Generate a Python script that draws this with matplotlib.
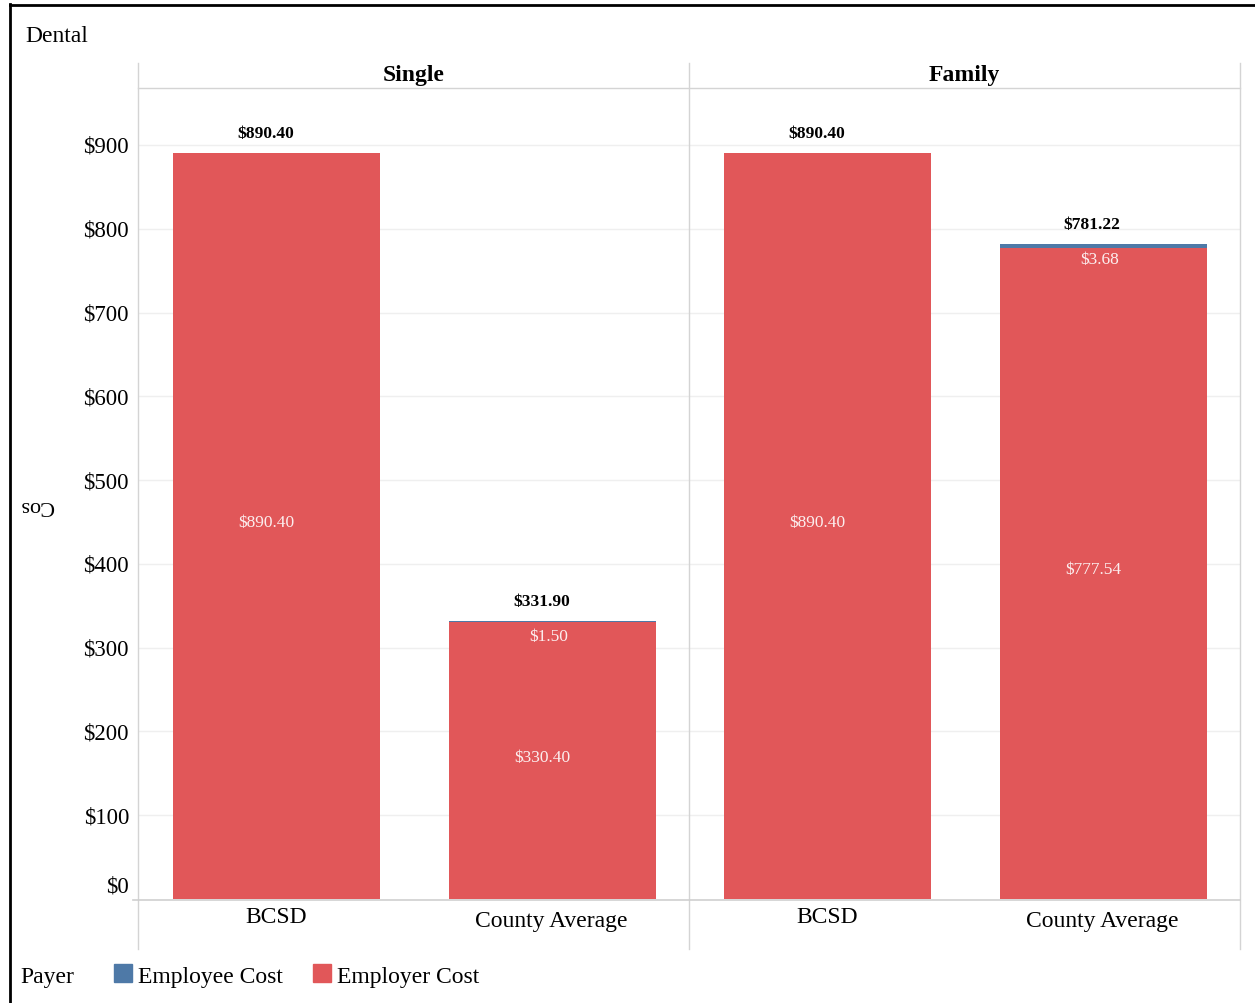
import matplotlib
matplotlib.use("Agg")
import matplotlib.pyplot as plt
from matplotlib.lines import Line2D
from matplotlib.patches import Rectangle

plt.rcParams['font.family'] = ['Liberation Serif', 'DejaVu Serif']

# ---- data ----
panels = ["Single", "Family"]
categories = ["BCSD", "County Average"]
employee_cost = {"Single": [0.0, 1.50], "Family": [0.0, 3.68]}
employer_cost = {"Single": [890.40, 330.40], "Family": [890.40, 777.54]}
yticks = [0, 100, 200, 300, 400, 500, 600, 700, 800, 900]
ytick_labels = ["$0", "$100", "$200", "$300", "$400", "$500", "$600", "$700", "$800", "$900"]
series_names = ["Employee Cost", "Employer Cost"]
colors = {"Employee Cost": "#4e79a7", "Employer Cost": "#e15759"}

W, H = 1255, 1004
fig = plt.figure(figsize=(W / 100, H / 100), dpi=100)


def fx(px):
    return px / W


def fy(py):
    return 1 - py / H


def hline(x0, x1, y, color, lw):
    fig.add_artist(Line2D([fx(x0), fx(x1)], [fy(y), fy(y)], color=color, lw=lw,
                          transform=fig.transFigure))


def vline(x, y0, y1, color, lw):
    fig.add_artist(Line2D([fx(x), fx(x)], [fy(y0), fy(y1)], color=color, lw=lw,
                          transform=fig.transFigure))


# outer frame (top and left)
hline(10, 1255, 5.5, "black", 2.0)
vline(10, 5, 1004, "black", 2.0)

plot_top, plot_bottom = 89, 900
panel_edges = [138, 689, 1240]
ymax = 968

PT = 0.72  # points per pixel at 100 dpi

axes = []
for i, p in enumerate(panels):
    x0, x1 = panel_edges[i], panel_edges[i + 1]
    ax = fig.add_axes([fx(x0 + 1), fy(plot_bottom), fx(x1 - x0), (plot_bottom - plot_top) / H])
    ax.set_xlim(-0.5, len(categories) - 0.5)
    ax.set_ylim(0, ymax)
    for s in ax.spines.values():
        s.set_visible(False)
    ax.set_xticks([])
    ax.set_yticks([])
    for t in yticks[1:]:
        ax.axhline(t, color="#efefef", lw=1.0, zorder=0)
    xs = list(range(len(categories)))
    emp = employer_cost[p]
    ee = employee_cost[p]
    ax.bar(xs, emp, width=0.75, color=colors["Employer Cost"], zorder=2)
    ax.bar(xs, ee, width=0.75, bottom=emp, color=colors["Employee Cost"], zorder=2)
    for x, a, b in zip(xs, emp, ee):
        total = a + b
        ax.annotate(f"${total:,.2f}", (x, total), xytext=(-11 * PT, 20 * PT),
                    textcoords="offset points", ha="center", va="center",
                    fontsize=12.5, fontweight="bold", color="black")
        ax.annotate(f"${a:,.2f}", (x, a / 2), xytext=(-10 * PT, 4 * PT),
                    textcoords="offset points", ha="center", va="center",
                    fontsize=12.5, color="white", alpha=0.9)
        if b > 0:
            ax.annotate(f"${b:,.2f}", (x, total), xytext=(-4 * PT, -7 * PT),
                        textcoords="offset points", ha="center", va="top",
                        fontsize=12.5, color="white", alpha=0.9)
    axes.append(ax)
    # header text
    fig.text(fx((x0 + x1) / 2), fy(75), p, ha="center", va="center", fontsize=17,
             fontweight="bold")
    # category labels
    for j, c in enumerate(categories):
        cx = x0 + (x1 - x0) * (j + 0.5) / len(categories)
        cy = 918 if c == "BCSD" else 922
        fig.text(fx(cx), fy(cy), c, ha="center", va="center", fontsize=17)

# grid frame lines
for x in panel_edges:
    vline(x, 64, 950, "#d4d4d4", 1.0)
hline(138, 1240, 89, "#d4d4d4", 1.0)
hline(133, 1240, 900.5, "#cfcfcf", 1.2)

# y tick labels
for t, lab in zip(yticks, ytick_labels):
    py = plot_bottom - 0.5 - t * (plot_bottom - plot_top) / ymax
    if t == 0:
        py -= 14
    fig.text(fx(129), fy(py + 2), lab, ha="right", va="center", fontsize=16.5)

# y axis label (upside down)
fig.text(fx(37), fy(506), "Cos", ha="center", va="center", rotation=180, fontsize=16)

# title of sheet
fig.text(fx(25), fy(36), "Dental", ha="left", va="center", fontsize=17)

# legend
fig.text(fx(20), fy(978), "Payer", ha="left", va="center", fontsize=17)
leg_x = [114, 313]
for name, lx in zip(series_names, leg_x):
    fig.add_artist(Rectangle((fx(lx), fy(983)), fx(18), 18 / H, color=colors[name],
                             transform=fig.transFigure))
    fig.text(fx(lx + 24), fy(978), name, ha="left", va="center", fontsize=17)

fig.savefig("out.png", dpi=100)
